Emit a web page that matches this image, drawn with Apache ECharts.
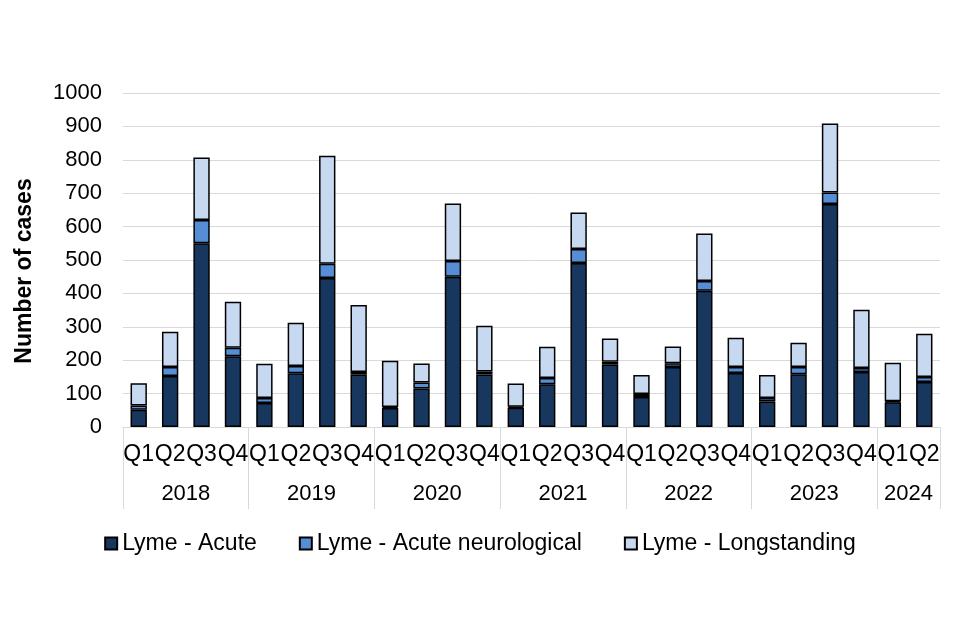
<!DOCTYPE html>
<html>
<head>
<meta charset="utf-8">
<script src="https://cdn.jsdelivr.net/npm/echarts@6/dist/echarts.min.js"></script>
<style>html,body{margin:0;padding:0;background:#fff}#c{width:960px;height:640px}</style>
</head>
<body>
<div id="c"></div>
<script>
const quarters = ['Q1','Q2','Q3','Q4','Q1','Q2','Q3','Q4','Q1','Q2','Q3','Q4','Q1','Q2','Q3','Q4','Q1','Q2','Q3','Q4','Q1','Q2','Q3','Q4','Q1','Q2'];
const years = ['2018','2019','2020','2021','2022','2023','2024'];
const quartersPerYear = [4,4,4,4,4,4,2];
const acute = [52,153,550,212, 72,161,446,157, 57,115,450,157, 58,128,491,187, 90,180,408,162, 76,158,668,165, 74,135];
const neuro = [12,27,70,25, 15,22,43,8, 3,18,47,9, 3,19,42,8, 9,11,29,18, 11,22,34,12, 3,15];
const longst = [67,105,187,138, 102,129,323,200, 138,57,172,137, 69,93,109,70, 57,50,142,87, 69,72,207,174, 115,129];
const yTicks = {min:0, max:1000, interval:100};

const FONT = '"Liberation Sans", Arial, sans-serif';
const boundaries = [0];
const centers = [];
const centerLabel = {};
let acc = 0;
quartersPerYear.forEach((n,i)=>{ centers.push(acc + n/2); centerLabel[acc + n/2] = years[i]; acc += n; boundaries.push(acc); });

const chart = echarts.init(document.getElementById('c'));
const border = {borderColor:'#000', borderWidth:1.5};
chart.setOption({
  animation:false,
  backgroundColor:'#fff',
  textStyle:{fontFamily:FONT},
  grid:{left:123, right:20, top:93, bottom:213, containLabel:false},
  legend:{
    top:527, left:'center', itemWidth:12, itemHeight:12, itemGap:42,
    icon:'rect',
    textStyle:{fontSize:23, color:'#000', fontFamily:FONT},
    data:['Lyme - Acute','Lyme - Acute neurological','Lyme - Longstanding']
  },
  xAxis:[{
    type:'category', data:quarters, position:'bottom',
    axisLine:{show:true, lineStyle:{color:'#d9d9d9', width:1}},
    axisTick:{show:false},
    axisLabel:{fontSize:23, color:'#000', margin:16, interval:0, fontFamily:FONT}
  },{
    type:'value', min:0, max:quarters.length, position:'bottom',
    axisLine:{show:false}, splitLine:{show:false},
    axisTick:{show:true, customValues:boundaries, length:82, lineStyle:{color:'#d9d9d9', width:1}},
    axisLabel:{show:true, customValues:centers, margin:56, fontSize:22, color:'#000', fontFamily:FONT,
      formatter:(v)=>centerLabel[v] || ''}
  }],
  yAxis:{
    type:'value', min:yTicks.min, max:yTicks.max, interval:yTicks.interval,
    name:'Number of cases', nameLocation:'middle', nameGap:87,
    nameTextStyle:{fontSize:23, fontWeight:'bold', color:'#000', fontFamily:FONT, padding:[0,22,0,0]},
    axisLine:{show:false}, axisTick:{show:false},
    axisLabel:{fontSize:22, color:'#000', margin:21, fontFamily:FONT, formatter:(v)=>String(v)},
    splitLine:{lineStyle:{color:'#d9d9d9', width:1}}
  },
  series:[
    {name:'Lyme - Acute', type:'bar', stack:'a', data:acute, barWidth:'52%', itemStyle:Object.assign({color:'#17375e'}, border)},
    {name:'Lyme - Acute neurological', type:'bar', stack:'a', data:neuro, itemStyle:Object.assign({color:'#558ed5'}, border)},
    {name:'Lyme - Longstanding', type:'bar', stack:'a', data:longst, itemStyle:Object.assign({color:'#c6d9f1'}, border)}
  ]
});
</script>
</body>
</html>
